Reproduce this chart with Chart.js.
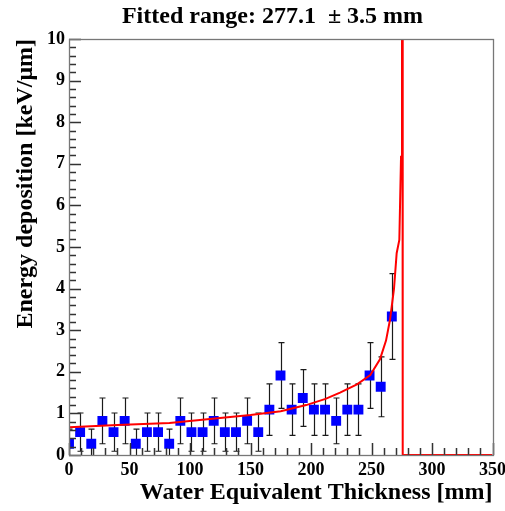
<!DOCTYPE html>
<html><head><meta charset="utf-8">
<script src="https://cdn.jsdelivr.net/npm/chart.js@4/dist/chart.umd.min.js"></script>
<style>html,body{margin:0;padding:0;background:#fff}</style>
</head><body>
<canvas id="c" width="505" height="511"></canvas>
<script>
// ---- data ----
const thickness = [0, 9.2, 18.4, 27.6, 36.8, 46, 55.2, 64.4, 73.6, 82.8, 92, 101.2, 110.4, 119.6, 128.8, 138, 147.2, 156.4, 165.6, 174.8, 184, 193.2, 202.4, 211.6, 220.8, 230, 239.2, 248.4, 257.6, 266.8];
const energy = [0.27, 0.55, 0.27, 0.82, 0.55, 0.82, 0.27, 0.55, 0.55, 0.27, 0.82, 0.55, 0.55, 0.82, 0.55, 0.55, 0.82, 0.55, 1.09, 1.91, 1.09, 1.37, 1.09, 1.09, 0.82, 1.09, 1.09, 1.91, 1.64, 3.33];
const energyErr = [0.35, 0.46, 0.35, 0.55, 0.46, 0.55, 0.35, 0.46, 0.46, 0.35, 0.55, 0.46, 0.46, 0.55, 0.46, 0.46, 0.55, 0.46, 0.62, 0.79, 0.62, 0.68, 0.62, 0.62, 0.55, 0.62, 0.62, 0.79, 0.72, 1.03];
const fitX = [0, 40, 83, 129, 150, 175, 196, 212, 224, 238, 249, 257, 262, 265.3, 268.6, 270.8, 273, 274.4, 275.2, 275.6, 275.8, 350];
const fitY = [0.67, 0.72, 0.77, 0.9, 0.96, 1.05, 1.2, 1.35, 1.5, 1.7, 1.92, 2.3, 2.75, 3.25, 4.0, 4.85, 5.17, 7.17, 10.5, 12, 0, 0];
const xTicks = [0, 50, 100, 150, 200, 250, 300, 350];
const yTicks = [0, 1, 2, 3, 4, 5, 6, 7, 8, 9, 10];
const xMinorStep = 10;
const yMinorStep = 0.2;
const titleText = 'Fitted range: 277.1  \u00B1 3.5 mm';
const xTitle = 'Water Equivalent Thickness [mm]';
const yTitle = 'Energy deposition [keV/\u03BCm]';

const FONT = '"Liberation Serif", "DejaVu Serif", serif';

const errorBars = {
  id: 'errorBars',
  beforeDatasetsDraw(chart) {
    const {ctx, chartArea, scales: {x, y}} = chart;
    ctx.save();
    ctx.beginPath();
    ctx.rect(chartArea.left, chartArea.top, chartArea.right - chartArea.left, chartArea.bottom - chartArea.top);
    ctx.clip();
    ctx.strokeStyle = '#1a1a1a';
    ctx.lineWidth = 1.2;
    for (let i = 0; i < thickness.length; i++) {
      const px = Math.round(x.getPixelForValue(thickness[i])) + 0.5;
      const yt = y.getPixelForValue(energy[i] + energyErr[i]);
      const yb = y.getPixelForValue(energy[i] - energyErr[i]);
      ctx.beginPath();
      ctx.moveTo(px, yt); ctx.lineTo(px, yb);
      ctx.moveTo(px - 3, yt); ctx.lineTo(px + 3, yt);
      ctx.moveTo(px - 3, yb); ctx.lineTo(px + 3, yb);
      ctx.stroke();
    }
    ctx.restore();
  }
};

function drawInnerTicks(chart) {
  const {ctx, chartArea: a, scales: {x, y}} = chart;
  ctx.save();
  ctx.fillStyle = '#333';
  const nx = Math.round((x.max - x.min) / xMinorStep);
  for (let k = 0; k <= nx; k++) {
    const v = x.min + k * xMinorStep;
    const px = Math.round(x.getPixelForValue(v));
    const len = (k % 5 === 0) ? 12 : 7;
    ctx.fillRect(px - 0.25, a.bottom - len, 1.5, len);
  }
  const ny = Math.round((y.max - y.min) / yMinorStep);
  for (let k = 0; k <= ny; k++) {
    const v = y.min + k * yMinorStep;
    const py = Math.round(y.getPixelForValue(v));
    const len = (k % 5 === 0) ? 12 : 7;
    ctx.fillRect(a.left, py - 0.25, len, 1.5);
  }
  ctx.restore();
}

const frameAndTicks = {
  id: 'frameAndTicks',
  afterDraw(chart) {
    const {ctx, chartArea: a} = chart;
    drawInnerTicks(chart);
    ctx.save();
    ctx.strokeStyle = '#777';
    ctx.lineWidth = 1.3;
    ctx.strokeRect(Math.round(a.left) + 0.5, Math.round(a.top) + 0.5, Math.round(a.right - a.left), Math.round(a.bottom - a.top));
    ctx.fillStyle = '#000';
    ctx.font = 'bold 24px ' + FONT;
    ctx.textAlign = 'center';
    ctx.textBaseline = 'middle';
    ctx.fillText(titleText, 272.5, 17);
    ctx.restore();
  }
};

new Chart(document.getElementById('c'), {
  type: 'scatter',
  data: {
    datasets: [
      {
        label: 'fit',
        data: fitX.map((v, i) => ({x: v, y: fitY[i]})),
        showLine: true,
        borderColor: '#ff0000',
        borderWidth: 2,
        pointRadius: 0,
        tension: 0,
        order: 0
      },
      {
        label: 'data',
        data: thickness.map((v, i) => ({x: v, y: energy[i]})),
        pointStyle: 'rect',
        pointRadius: 7,
        pointHoverRadius: 7,
        backgroundColor: '#0000ff',
        borderWidth: 0,
        order: 1
      }
    ]
  },
  options: {
    responsive: false,
    animation: false,
    events: [],
    layout: {padding: {left: 0, right: 12.5, top: 39, bottom: 0}},
    plugins: {legend: {display: false}, tooltip: {enabled: false}, title: {display: false}},
    scales: {
      x: {
        type: 'linear', min: 0, max: 350,
        afterFit(s) { s.height = 56; s.paddingLeft = 0; s.paddingRight = 0; },
        afterBuildTicks(s) { s.ticks = xTicks.map(v => ({value: v})); },
        grid: {display: false, drawTicks: false},
        border: {display: false},
        ticks: {autoSkip: false, maxRotation: 0, padding: 5, color: '#000', font: {family: FONT, size: 18, weight: 'bold'}},
        title: {display: true, text: xTitle, align: 'end', color: '#000', font: {family: FONT, size: 24, weight: 'bold'}, padding: {top: 0, bottom: 4}}
      },
      y: {
        type: 'linear', min: 0, max: 10,
        afterFit(s) { s.width = 69; s.paddingTop = 0; s.paddingBottom = 0; },
        afterBuildTicks(s) { s.ticks = yTicks.map(v => ({value: v})); },
        grid: {display: false, drawTicks: false},
        border: {display: false},
        ticks: {autoSkip: false, padding: 4, color: '#000', font: {family: FONT, size: 18, weight: 'bold'}},
        title: {display: true, text: yTitle, align: 'end', color: '#000', font: {family: FONT, size: 24, weight: 'bold'}, padding: {top: 11, bottom: 0}}
      }
    }
  },
  plugins: [errorBars, frameAndTicks]
});
</script>
</body></html>
